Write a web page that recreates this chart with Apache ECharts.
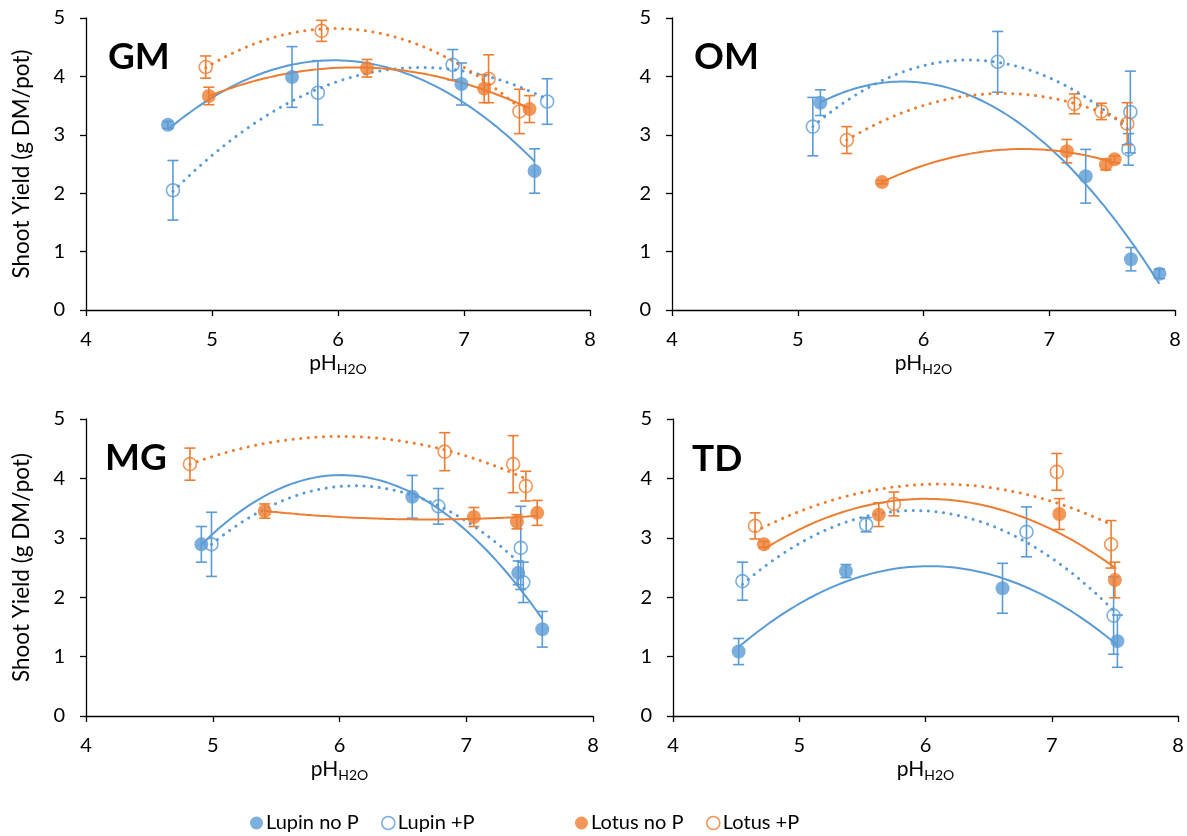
<!DOCTYPE html>
<html><head><meta charset="utf-8">
<script src="https://cdn.jsdelivr.net/npm/echarts@6/dist/echarts.min.js"></script>
<style>html,body{margin:0;padding:0;background:#fff}#c{width:1187px;height:836px}</style>
</head><body><div id="c"></div><script>
// ---------------- data: [pH, shoot yield, error] ----------------
const panelNames = ['GM', 'OM', 'MG', 'TD'];
const seriesNames = ['Lupin no P', 'Lupin +P', 'Lotus no P', 'Lotus +P'];
const xTickValues = [4, 5, 6, 7, 8];
const yTickValues = [0, 1, 2, 3, 4, 5];
const yAxisTitle = 'Shoot Yield (g DM/pot)';

const gmLupinNoP = [[4.65, 3.17, 0.06], [5.635, 3.99, 0.52], [6.98, 3.87, 0.36], [7.56, 2.38, 0.38]];
const gmLupinP   = [[4.69, 2.05, 0.51], [5.84, 3.72, 0.55], [6.91, 4.20, 0.26], [7.66, 3.57, 0.39]];
const gmLotusNoP = [[4.975, 3.665, 0.15], [6.23, 4.14, 0.15], [7.16, 3.79, 0.24], [7.52, 3.44, 0.23]];
const gmLotusP   = [[4.95, 4.16, 0.19], [5.87, 4.78, 0.18], [7.195, 3.96, 0.41], [7.44, 3.40, 0.38]];

const omLupinNoP = [[5.18, 3.55, 0.22], [7.29, 2.29, 0.46], [7.65, 0.87, 0.20], [7.876, 0.62, 0.08]];
const omLupinP   = [[5.12, 3.14, 0.50], [6.59, 4.25, 0.52], [7.645, 3.39, 0.70], [7.63, 2.75, 0.27]];
const omLotusNoP = [[5.67, 2.19, 0.03], [7.14, 2.72, 0.20], [7.45, 2.49, 0.09], [7.52, 2.58, 0.06]];
const omLotusP   = [[5.39, 2.91, 0.23], [7.20, 3.53, 0.17], [7.415, 3.40, 0.14], [7.62, 3.19, 0.36]];

const mgLupinNoP = [[4.91, 2.89, 0.30], [6.574, 3.69, 0.36], [7.41, 2.41, 0.20], [7.60, 1.46, 0.30]];
const mgLupinP   = [[4.99, 2.89, 0.54], [6.78, 3.53, 0.30], [7.43, 2.83, 0.70], [7.45, 2.25, 0.34]];
const mgLotusNoP = [[5.41, 3.45, 0.12], [7.06, 3.35, 0.16], [7.40, 3.27, 0.12], [7.56, 3.42, 0.21]];
const mgLotusP   = [[4.82, 4.24, 0.27], [6.83, 4.45, 0.32], [7.37, 4.24, 0.48], [7.47, 3.87, 0.25]];

const tdLupinNoP = [[4.52, 1.085, 0.22], [5.37, 2.44, 0.11], [6.61, 2.15, 0.42], [7.52, 1.26, 0.44]];
const tdLupinP   = [[4.55, 2.27, 0.32], [5.53, 3.22, 0.12], [6.80, 3.10, 0.42], [7.49, 1.69, 0.65]];
const tdLotusNoP = [[4.72, 2.89, 0.05], [5.63, 3.39, 0.20], [7.06, 3.40, 0.26], [7.50, 2.29, 0.30]];
const tdLotusP   = [[4.65, 3.20, 0.22], [5.75, 3.57, 0.20], [7.04, 4.11, 0.31], [7.47, 2.89, 0.40]];

const panelData = [
  [gmLupinNoP, gmLupinP, gmLotusNoP, gmLotusP],
  [omLupinNoP, omLupinP, omLotusNoP, omLotusP],
  [mgLupinNoP, mgLupinP, mgLotusNoP, mgLotusP],
  [tdLupinNoP, tdLupinP, tdLotusNoP, tdLotusP]
];

// ---------------- styling ----------------
const BLUE = '#5B9BD5', ORANGE = '#ED7D31';
const seriesColors = [BLUE, BLUE, ORANGE, ORANGE];
const seriesFilled = [true, false, true, false];
const FONT = 'Lato';

const grids = [
  {left: 86, top: 18, width: 504, height: 292},
  {left: 672, top: 18, width: 503, height: 292},
  {left: 86, top: 419, width: 507, height: 297},
  {left: 673, top: 419, width: 505, height: 297}
];
const labelPos = [[108, 39], [694, 39], [105, 440], [692, 441]];

// quadratic least-squares trendline (as the original's polynomial trendlines)
function quadFit(pts) {
  let n = pts.length, sx = 0, sx2 = 0, sx3 = 0, sx4 = 0, sy = 0, sxy = 0, sx2y = 0;
  pts.forEach(p => { const x = p[0], y = p[1];
    sx += x; sx2 += x * x; sx3 += x * x * x; sx4 += x * x * x * x;
    sy += y; sxy += x * y; sx2y += x * x * y; });
  const M = [[n, sx, sx2, sy], [sx, sx2, sx3, sxy], [sx2, sx3, sx4, sx2y]];
  for (let i = 0; i < 3; i++) {
    let p = i; for (let r = i + 1; r < 3; r++) if (Math.abs(M[r][i]) > Math.abs(M[p][i])) p = r;
    [M[i], M[p]] = [M[p], M[i]];
    for (let r = 0; r < 3; r++) if (r !== i) {
      const f = M[r][i] / M[i][i];
      for (let c = i; c < 4; c++) M[r][c] -= f * M[i][c];
    }
  }
  return [M[0][3] / M[0][0], M[1][3] / M[1][1], M[2][3] / M[2][2]];
}
function trendPoints(pts) {
  const c = quadFit(pts);
  const xs = pts.map(p => p[0]);
  const lo = Math.min(...xs), hi = Math.max(...xs);
  const out = [];
  for (let i = 0; i <= 80; i++) { const x = lo + (hi - lo) * i / 80; out.push([x, c[0] + c[1] * x + c[2] * x * x]); }
  return out;
}

const xAxes = [], yAxes = [], series = [], graphics = [];
grids.forEach((g, i) => {
  xAxes.push({
    gridIndex: i, type: 'value', min: xTickValues[0], max: xTickValues[xTickValues.length - 1], interval: 1,
    splitLine: {show: false},
    axisLine: {onZero: false, lineStyle: {color: '#000', width: 1.3}},
    axisTick: {inside: false, length: 6, lineStyle: {color: '#000', width: 1.3}},
    axisLabel: {color: '#000', fontSize: 20, fontFamily: FONT, margin: 20},
    name: '{a|pH}{b|H2O}', nameLocation: 'middle', nameGap: 41,
    nameTextStyle: {rich: {a: {fontSize: 21, fontFamily: FONT, color: '#000'},
                           b: {fontSize: 14, fontFamily: FONT, color: '#000', padding: [11, 0, 0, 0]}}}
  });
  yAxes.push({
    gridIndex: i, type: 'value', min: yTickValues[0], max: yTickValues[yTickValues.length - 1], interval: 1,
    splitLine: {show: false},
    axisLine: {show: true, lineStyle: {color: '#000', width: 1.3}},
    axisTick: {show: true, inside: false, length: 6, lineStyle: {color: '#000', width: 1.3}},
    axisLabel: {color: '#000', fontSize: 20, fontFamily: FONT, margin: 21},
    name: (i % 2 === 0) ? yAxisTitle : '', nameLocation: 'middle', nameGap: 53,
    nameTextStyle: {fontSize: 22.5, fontFamily: FONT, color: '#000'}
  });
  graphics.push({type: 'text', left: labelPos[i][0], top: labelPos[i][1],
    style: {text: panelNames[i], font: 'bold 37px ' + FONT, fill: '#000'}});

  panelData[i].forEach((pts, s) => {
    const col = seriesColors[s];
    // error bars
    series.push({
      type: 'custom', name: seriesNames[s] + ' error', xAxisIndex: i, yAxisIndex: i, z: 2,
      data: pts.map(p => [p[0], p[1] - p[2], p[1] + p[2]]),
      encode: {x: 0, y: [1, 2]},
      renderItem: (params, api) => {
        const lo = api.coord([api.value(0), api.value(1)]);
        const hi = api.coord([api.value(0), api.value(2)]);
        const w = 5.5, st = {stroke: col, lineWidth: 1.6};
        return {type: 'group', children: [
          {type: 'line', shape: {x1: lo[0], y1: lo[1], x2: hi[0], y2: hi[1]}, style: st},
          {type: 'line', shape: {x1: lo[0] - w, y1: lo[1], x2: lo[0] + w, y2: lo[1]}, style: st},
          {type: 'line', shape: {x1: hi[0] - w, y1: hi[1], x2: hi[0] + w, y2: hi[1]}, style: st}
        ]};
      }
    });
    // trendline
    series.push({
      type: 'line', name: seriesNames[s] + ' trend', xAxisIndex: i, yAxisIndex: i, z: 3,
      data: trendPoints(pts), showSymbol: false, symbol: 'none', silent: true,
      lineStyle: seriesFilled[s]
        ? {color: col, width: 2, type: 'solid'}
        : {color: col, width: 3, type: [0.1, 7.5], cap: 'round'}
    });
    // markers
    series.push({
      type: 'scatter', name: seriesNames[s], xAxisIndex: i, yAxisIndex: i, z: 4,
      data: pts.map(p => [p[0], p[1]]), symbol: 'circle', symbolSize: seriesFilled[s] ? 14 : 13,
      itemStyle: seriesFilled[s]
        ? {color: col}
        : {color: 'rgba(255,255,255,0)', borderColor: col, borderWidth: 1.6}
    });
  });
});

const legendLeft = [245, 376, 570, 701];
const legends = seriesNames.map((n, s) => ({
  left: legendLeft[s], top: 808, itemWidth: 13, itemHeight: 13, itemGap: 5,
  textStyle: {fontSize: 20, fontFamily: FONT, color: '#000', padding: [0, 0, 0, -2]},
  data: [{name: n, icon: 'circle',
    itemStyle: seriesFilled[s] ? {color: seriesColors[s]} : {color: '#fff', borderColor: seriesColors[s], borderWidth: 1.6}}]
}));

const chart = echarts.init(document.getElementById('c'), null, {renderer: 'canvas'});
chart.setOption({
  animation: false,
  backgroundColor: '#fff',
  grid: grids,
  xAxis: xAxes,
  yAxis: yAxes,
  legend: legends,
  graphic: graphics,
  series: series
});
</script></body></html>
